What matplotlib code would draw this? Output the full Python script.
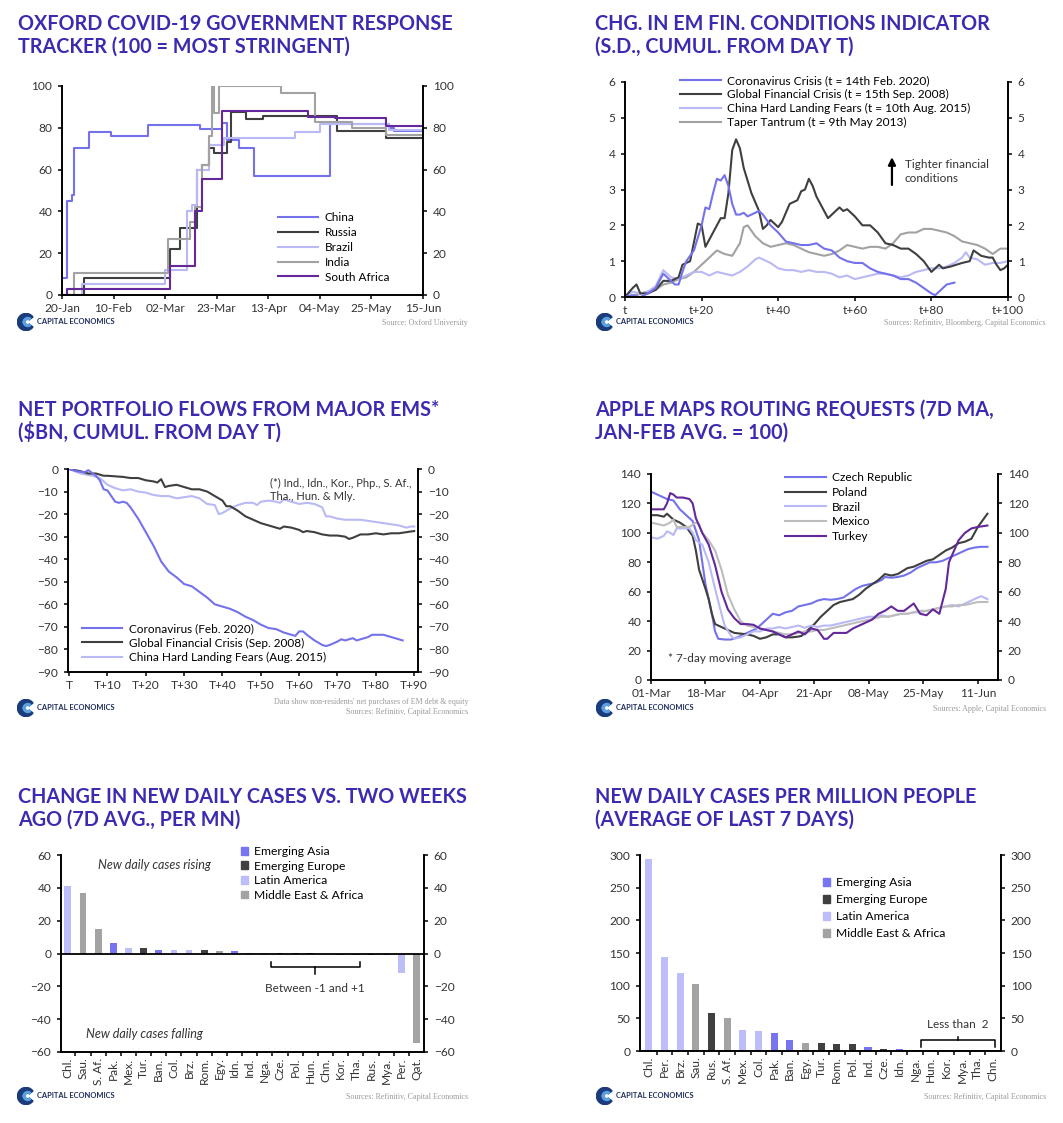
import matplotlib
matplotlib.use("Agg")
import matplotlib.pyplot as plt
import matplotlib.dates as mdates
from matplotlib.patches import Wedge, Patch
import pandas as pd

plt.rcParams['font.family'] = ['Lato', 'DejaVu Sans']

# ---------------- data ----------------
# panel 1: Oxford stringency index (step changes)
china_d = ["2020-01-20", "2020-01-22", "2020-01-24", "2020-01-25", "2020-01-31", "2020-02-09", "2020-02-24",
           "2020-03-16", "2020-03-25", "2020-03-27", "2020-04-01", "2020-04-07", "2020-05-08", "2020-06-01", "2020-06-03"]
china_v = [8, 45, 48, 70.5, 78, 76, 81.5, 79.5, 82.5, 74, 70.5, 57, 82, 80, 78.5]
russia_d = ["2020-01-20", "2020-01-29", "2020-03-04", "2020-03-08", "2020-03-15", "2020-03-17", "2020-03-20",
            "2020-03-22", "2020-03-27", "2020-03-29", "2020-04-04", "2020-04-11", "2020-05-11", "2020-05-31"]
russia_v = [0, 8, 22, 32, 60, 62, 70.5, 68, 73, 87.5, 84, 85.5, 78.5, 75]
brazil_d = ["2020-01-20", "2020-01-28", "2020-03-02", "2020-03-11", "2020-03-13", "2020-03-15", "2020-03-20",
            "2020-03-26", "2020-04-24", "2020-05-04", "2020-06-01"]
brazil_v = [0, 5.5, 12, 40, 43, 60, 72, 75, 78, 82, 79]
india_d = ["2020-01-20", "2020-01-25", "2020-03-03", "2020-03-12", "2020-03-14", "2020-03-17", "2020-03-20",
           "2020-03-21", "2020-03-22", "2020-03-24", "2020-04-18", "2020-05-02", "2020-05-17", "2020-05-31"]
india_v = [0, 10.5, 27, 35, 42, 62, 76, 100, 87, 100, 96.5, 83, 80, 76.5]
safrica_d = ["2020-01-20", "2020-01-22", "2020-03-04", "2020-03-14", "2020-03-17", "2020-03-25", "2020-04-29",
             "2020-05-10", "2020-05-31"]
safrica_v = [0, 3, 14, 40, 55.5, 88, 85, 84.5, 81]

# panel 2: EM financial conditions (days from t)
cv_x = [0, 2, 4, 6, 8, 10, 11, 13, 14, 15, 16, 18, 20, 21, 22, 23, 24, 25, 26, 27, 28, 29, 30, 31, 32, 34, 35, 36,
        38, 40, 42, 44, 46, 48, 50, 52, 54, 56, 58, 60, 62, 64, 66, 68, 70, 72, 74, 76, 78, 80, 81, 82, 84, 86]
cv_y = [0, 0.05, 0, 0.1, 0.25, 0.65, 0.55, 0.35, 0.35, 0.7, 1.0, 1.3, 2.0, 2.5, 2.45, 2.9, 3.3, 3.25, 3.4, 3.1,
        2.6, 2.3, 2.3, 2.35, 2.25, 2.35, 2.4, 2.3, 2.0, 1.8, 1.55, 1.5, 1.45, 1.45, 1.5, 1.35, 1.3, 1.1, 1.0, 0.95,
        0.95, 0.8, 0.7, 0.65, 0.6, 0.5, 0.5, 0.4, 0.25, 0.1, 0.05, 0.15, 0.35, 0.4]
gfc_x = [0, 2, 3, 4, 6, 8, 10, 12, 14, 15, 17, 19, 20, 21, 23, 25, 26, 27, 28, 29, 30, 31, 33, 35, 36, 37, 38, 40,
         41, 43, 45, 46, 47, 48, 49, 50, 52, 53, 55, 56, 57, 58, 60, 62, 64, 66, 68, 70, 72, 74, 76, 78, 80, 82,
         83, 85, 88, 90, 91, 93, 95, 96, 97, 98, 99, 100]
gfc_y = [0, 0.25, 0.35, 0.1, 0.1, 0.2, 0.45, 0.45, 0.55, 0.9, 1.0, 2.05, 2.0, 1.4, 1.8, 2.2, 2.2, 2.9, 4.1, 4.4,
         4.15, 3.6, 2.9, 2.4, 1.9, 2.0, 2.15, 1.95, 2.1, 2.6, 2.7, 2.95, 3.0, 3.3, 3.1, 2.8, 2.4, 2.2, 2.4, 2.5,
         2.4, 2.45, 2.25, 2.0, 2.0, 1.8, 1.5, 1.45, 1.35, 1.35, 1.2, 1.0, 0.7, 0.9, 0.8, 0.85, 0.95, 1.0, 1.3,
         1.15, 1.1, 1.1, 0.9, 0.75, 0.8, 0.9]
chl_x = [0, 2, 4, 6, 8, 10, 12, 14, 16, 18, 20, 22, 24, 26, 28, 30, 32, 34, 35, 36, 38, 40, 42, 44, 46, 48, 50,
         52, 54, 56, 58, 60, 62, 64, 66, 68, 70, 72, 74, 76, 78, 80, 82, 84, 86, 88, 89, 90, 92, 94, 96, 98, 100]
chl_y = [0, 0.15, 0.1, 0.15, 0.3, 0.75, 0.55, 0.5, 0.6, 0.7, 0.7, 0.6, 0.7, 0.65, 0.6, 0.7, 0.85, 1.05, 1.1,
         1.05, 0.95, 0.8, 0.75, 0.75, 0.7, 0.75, 0.7, 0.7, 0.65, 0.55, 0.6, 0.5, 0.55, 0.6, 0.65, 0.65, 0.6, 0.55,
         0.6, 0.7, 0.75, 0.8, 0.8, 0.85, 0.95, 1.1, 1.25, 1.1, 1.05, 0.9, 0.95, 0.95, 1.0]
tt_x = [0, 4, 8, 10, 12, 14, 16, 18, 20, 22, 24, 26, 28, 30, 31, 32, 34, 36, 38, 40, 42, 44, 46, 48, 50, 52, 54,
        56, 58, 60, 62, 64, 66, 68, 70, 72, 74, 76, 78, 80, 82, 84, 86, 88, 90, 92, 94, 96, 98, 100]
tt_y = [0, 0.1, 0.2, 0.35, 0.4, 0.5, 0.55, 0.7, 0.9, 1.1, 1.3, 1.2, 1.15, 1.5, 1.95, 2.0, 1.7, 1.5, 1.4, 1.45,
        1.5, 1.45, 1.35, 1.25, 1.2, 1.15, 1.2, 1.3, 1.45, 1.4, 1.35, 1.4, 1.4, 1.35, 1.5, 1.75, 1.8, 1.8, 1.9,
        1.9, 1.85, 1.8, 1.7, 1.55, 1.5, 1.45, 1.35, 1.2, 1.35, 1.35]

# panel 3: net portfolio flows ($bn, days from T)
p3_cv_x = [0, 2, 4, 5, 7, 8, 9, 10, 11, 12, 13, 14, 15, 16, 18, 20, 22, 24, 26, 28, 30, 32, 34, 36, 38, 40, 42,
           44, 46, 48, 50, 52, 54, 56, 58, 59, 60, 61, 62, 64, 66, 67, 68, 70, 71, 72, 74, 75, 76, 78, 79, 80, 82,
           84, 86, 87]
p3_cv_y = [0, -1, -1.5, -0.5, -3, -5, -9, -9.5, -12, -14.5, -15, -14.5, -15, -17, -22, -28, -34, -41, -45.5, -48,
           -51, -52, -54.5, -57, -60, -61, -62, -63.5, -65.5, -67, -69, -70.5, -71, -72.5, -73.5, -74, -72, -72,
           -73.5, -76, -78, -78.5, -78, -76.5, -75.5, -76, -75, -76, -75.5, -74.5, -73.5, -73.5, -73.5, -74.5,
           -75.5, -76]
p3_gfc_x = [0, 3, 5, 7, 9, 10, 14, 16, 18, 20, 22, 23, 24, 25, 26, 28, 30, 32, 34, 36, 38, 40, 41, 42, 44, 46,
            48, 50, 52, 54, 55, 56, 58, 60, 61, 62, 64, 66, 68, 70, 72, 73, 74, 76, 78, 80, 82, 84, 86, 88, 90]
p3_gfc_y = [0, -1, -2, -2, -3, -3, -3.5, -4, -4, -5, -5.5, -6, -4.5, -8, -7.5, -7, -8, -9, -9, -10, -12, -14,
            -16.5, -16.5, -18.5, -21, -22.5, -24, -25, -26, -26.5, -25.5, -26, -27, -28, -27.5, -28, -29, -29.5,
            -29.5, -30, -31, -30.5, -29, -29, -28.5, -29, -28.5, -28.5, -28, -27.5]
p3_chl_x = [0, 3, 6, 8, 10, 12, 14, 16, 18, 20, 22, 24, 26, 28, 30, 32, 34, 36, 38, 39, 40, 42, 44, 46, 48, 49,
            50, 52, 54, 55, 56, 58, 60, 62, 64, 66, 67, 68, 70, 72, 74, 76, 78, 80, 82, 84, 86, 88, 89, 90]
p3_chl_y = [0, -2, -3, -4, -7, -8.5, -9.5, -9, -10, -10.5, -11.5, -12, -12, -13, -12.5, -12, -13, -15.5, -16, -20,
            -19.5, -17.5, -16, -15, -15, -16, -14.5, -14, -14.5, -15, -13.5, -14.5, -15.5, -15, -15.5, -17, -21,
            -21, -22, -22.5, -22.5, -22.5, -23, -23.5, -24, -24.5, -25, -26, -25.5, -25.5]

# panel 4: Apple maps routing requests (days from 01-Mar)
cz_x = [0, 2, 5, 7, 9, 11, 13, 15, 16, 17, 18, 19, 20, 21, 23, 25, 27, 29, 31, 33, 35, 37, 38, 40, 42, 44, 46, 48,
        50, 52, 54, 56, 58, 60, 62, 64, 66, 68, 70, 72, 73, 75, 77, 79, 81, 83, 85, 87, 89, 91, 93, 95, 97, 99,
        101, 103, 105]
cz_y = [128, 126, 123, 122, 116, 112, 108, 95, 80, 65, 55, 45, 33, 28, 27.5, 27.5, 29, 31, 33, 35, 39, 43, 45, 44,
        46, 47, 50, 51, 52, 54, 55, 54.5, 55, 56, 59, 62, 64, 65, 66, 68, 70, 69.5, 70, 71, 73, 76, 78, 80, 80, 81,
        83, 85, 87, 89, 90, 90.5, 90.5]
pl_x = [0, 2, 4, 5, 7, 9, 11, 13, 14, 15, 17, 18, 19, 20, 22, 24, 26, 28, 30, 32, 34, 36, 38, 40, 42, 44, 46, 47,
        49, 51, 53, 55, 57, 59, 61, 63, 65, 67, 69, 71, 72, 73, 75, 77, 80, 82, 84, 86, 88, 90, 92, 94, 96, 98,
        100, 102, 104, 105]
pl_y = [112, 112, 111, 113, 109, 107, 104, 98, 88, 75, 62, 55, 45, 38, 36, 34, 32, 31.5, 31, 30, 28, 29, 31, 31,
        29, 29, 29.5, 30, 34, 38, 43, 47, 51, 53, 54, 55, 58, 62, 65, 68, 70, 72, 71, 72, 76, 77, 79, 81, 82, 85,
        88, 90, 93, 94, 96, 104, 110, 113]
br_x = [0, 2, 4, 5, 6, 7, 8, 10, 12, 13, 14, 16, 18, 20, 22, 23, 25, 26, 28, 30, 32, 34, 36, 38, 40, 42, 44, 46,
        48, 50, 52, 54, 56, 58, 60, 62, 64, 66, 68, 70, 72, 74, 76, 78, 80, 82, 84, 86, 88, 90, 92, 94, 96, 98,
        100, 102, 103, 105]
br_y = [97, 96, 98, 101, 100, 98.5, 103, 103, 103, 100, 95, 92, 80, 62, 45, 37, 30, 28, 29, 31, 33, 33, 35, 35,
        36, 35, 36, 37, 35.5, 37, 36, 37, 37, 38, 39, 40, 41, 42, 43, 43, 44, 43, 44, 45, 45, 46, 46, 47, 48, 49,
        50, 51, 50, 52, 54, 56, 57, 55]
mx_x = [0, 2, 4, 6, 7, 8, 10, 12, 14, 15, 16, 18, 20, 22, 24, 26, 28, 30, 32, 34, 36, 38, 40, 42, 44, 46, 48, 50,
        52, 54, 56, 58, 60, 62, 64, 66, 68, 70, 72, 74, 76, 78, 80, 82, 84, 86, 88, 90, 92, 94, 96, 98, 100, 102,
        105]
mx_y = [107, 106, 105, 107, 109, 104, 104, 104, 107, 106, 100, 95, 88, 75, 58, 48, 40, 37, 36, 35, 34, 33, 32,
        31, 31, 32, 33, 33, 34, 34, 35, 36, 37, 38, 39, 40, 41, 42, 43, 43, 44, 45, 45, 46, 47, 47, 48, 49, 50,
        50, 51, 51, 52, 53, 53]
tr_x = [0, 2, 4, 5, 6, 7, 8, 10, 12, 13, 14, 16, 18, 20, 22, 24, 26, 28, 30, 32, 34, 36, 38, 40, 42, 44, 46, 48,
        50, 52, 54, 55, 57, 59, 61, 63, 66, 69, 71, 73, 75, 77, 79, 82, 84, 86, 88, 90, 92, 93, 94, 96, 98, 100,
        102, 105]
tr_y = [116, 116, 116, 120, 127, 126, 124, 124, 123, 120, 110, 100, 92, 78, 60, 48, 42, 38, 38, 37.5, 35, 34, 33,
        31, 29, 31, 33, 31, 35, 34, 28, 28, 32, 32, 32, 35, 38, 41, 45, 47, 50, 47, 47, 52, 45, 44, 48, 45, 62,
        80, 85, 95, 100, 103, 104, 105]
p4_ticks = ["01-Mar", "18-Mar", "04-Apr", "21-Apr", "08-May", "25-May", "11-Jun"]

# panel 5: change in new daily cases vs two weeks ago
cats5 = ["Chl.", "Sau.", "S. Af.", "Pak.", "Mex.", "Tur.", "Ban.", "Col.", "Brz.", "Rom.", "Egy.", "Idn.",
         "Ind.", "Nga.", "Cze.", "Pol.", "Hun.", "Chn.", "Kor.", "Tha.", "Rus.", "Mya.", "Per.", "Qat."]
vals5 = [41.4, 36.7, 14.7, 6.1, 3.3, 3.3, 2.3, 2.3, 2.3, 2.3, 1.4, 1.4, 0.3, 0.2, 0.1, 0.1, 0.05, 0.0,
         -0.9, -0.9, -1.2, -0.9, -11.8, -54.5]
reg5 = ["LA", "ME", "ME", "AS", "LA", "EU", "AS", "LA", "LA", "EU", "ME", "AS",
        "AS", "ME", "EU", "EU", "EU", "AS", "AS", "AS", "EU", "AS", "LA", "ME"]

# panel 6: new daily cases per million
cats6 = ["Chl.", "Per.", "Brz.", "Sau.", "Rus.", "S. Af.", "Mex.", "Col.", "Pak.", "Ban.", "Egy.", "Tur.",
         "Rom.", "Pol.", "Ind.", "Cze.", "Idn.", "Nga.", "Hun.", "Kor.", "Mya.", "Tha.", "Chn."]
vals6 = [294, 144, 120, 103, 58, 51, 32, 30, 28, 17, 13, 13, 11, 11, 6, 3, 3, 1, 1, 0.5, 0.3, 0.1, 0.05]
reg6 = ["LA", "LA", "LA", "ME", "EU", "ME", "LA", "LA", "AS", "AS", "ME", "EU",
        "EU", "EU", "AS", "EU", "AS", "ME", "EU", "AS", "AS", "AS", "AS"]

# ---------------- style ----------------
TITLE = "#3a2bb0"
BLUE = "#7472ea"
DARK = "#3f3f3f"
LAV = "#b9b9f6"
GREY = "#a2a2a2"
LGREY = "#bdbdbd"
PURPLE = "#64289a"
REGION = {"AS": ("Emerging Asia", "#7674f0"), "EU": ("Emerging Europe", "#404040"),
          "LA": ("Latin America", "#bdbdfa"), "ME": ("Middle East & Africa", "#a3a3a3")}
TXT = "#333333"
TICK_FS = 8.6
NOTE_FS = 8.5

W, H = 1063, 1123
fig = plt.figure(figsize=(W / 100, H / 100), dpi=100)


def px_axes(l, t, r, b):
    return fig.add_axes([l / W, 1 - b / H, (r - l) / W, (b - t) / H])


def style(ax):
    ax.spines['top'].set_visible(False)
    for s in ['left', 'right', 'bottom']:
        ax.spines[s].set_linewidth(1.4)
        ax.spines[s].set_color('black')
    ax.tick_params(axis='y', left=True, right=True, labelleft=True, labelright=True, direction='out',
                   length=3, width=1.1, labelsize=TICK_FS, labelcolor=TXT, pad=4)
    ax.tick_params(axis='x', direction='out', length=3, width=1.1, labelsize=TICK_FS, labelcolor=TXT, pad=3)
    ax.set_facecolor('none')


def title(x, y, l1, l2):
    fig.text(x / W, 1 - y / H, l1, fontsize=14.2, fontweight='bold', color=TITLE, va='baseline')
    fig.text(x / W, 1 - (y + 23) / H, l2, fontsize=14.2, fontweight='bold', color=TITLE, va='baseline')


def footer(x, y, right, src):
    lax = fig.add_axes([(x) / W, 1 - (y + 9) / H, 18 / W, 18 / H])
    lax.set_xlim(-1, 1)
    lax.set_ylim(-1, 1)
    lax.set_aspect('equal')
    lax.axis('off')
    lax.add_patch(Wedge((0, 0), 0.95, 35, 325, width=0.5, color='#1b3c7c'))
    lax.add_patch(Wedge((0.2, 0), 0.5, 50, 310, width=0.22, color='#5aa0e0'))
    fig.text((x + 20) / W, 1 - y / H, "CAPITAL ECONOMICS", fontsize=5.4, fontweight='bold',
             color='#1e2d5c', va='center')
    lines = src.split("\n")
    base = y + 1 if len(lines) == 1 else y + 4
    for i, s in enumerate(lines[::-1]):
        fig.text(right / W, 1 - (base - i * 10) / H, s, fontsize=5.8, color='#9a9a9a',
                 ha='right', va='center', family=['Liberation Serif'])


def line_legend(ax, handles, labels, x, y, fs=8.5, ls=0.3):
    ax.legend(handles, labels, loc='upper left', bbox_to_anchor=(x, y), frameon=False, fontsize=fs,
              handlelength=3.4, handletextpad=0.55, labelspacing=ls, borderaxespad=0, borderpad=0)


# ---------------- panel 1 ----------------
title(18, 30, "OXFORD COVID-19 GOVERNMENT RESPONSE", "TRACKER (100 = MOST STRINGENT)")
ax1 = px_axes(62, 86, 423, 295)
end1 = pd.Timestamp("2020-06-15")
p1 = [("China", china_d, china_v, BLUE), ("Russia", russia_d, russia_v, DARK),
      ("Brazil", brazil_d, brazil_v, LAV), ("India", india_d, india_v, GREY),
      ("South Africa", safrica_d, safrica_v, PURPLE)]
hs = []
for name, d, v, c in p1:
    dd = list(pd.to_datetime(d)) + [end1]
    vv = list(v) + [v[-1]]
    h, = ax1.step(dd, vv, where='post', color=c, lw=1.5)
    hs.append(h)
ax1.set_xlim(pd.Timestamp("2020-01-20"), end1)
ax1.set_ylim(0, 100)
ax1.set_xticks(pd.date_range("2020-01-20", "2020-06-15", freq="21D"))
ax1.xaxis.set_major_formatter(mdates.DateFormatter('%d-%b'))
ax1.set_yticks(range(0, 101, 20))
style(ax1)
line_legend(ax1, hs, [p[0] for p in p1], 0.598, 0.397, ls=0.33)
footer(17, 322, 468, "Source: Oxford University")

# ---------------- panel 2 ----------------
title(595, 30, "CHG. IN EM FIN. CONDITIONS INDICATOR", "(S.D., CUMUL. FROM DAY T)")
ax2 = px_axes(625, 82, 1008, 297)
p2 = [("Coronavirus Crisis (t = 14th Feb. 2020)", cv_x, cv_y, BLUE),
      ("Global Financial Crisis (t = 15th Sep. 2008)", gfc_x, gfc_y, DARK),
      ("China Hard Landing Fears (t = 10th Aug. 2015)", chl_x, chl_y, LAV),
      ("Taper Tantrum (t = 9th May 2013)", tt_x, tt_y, GREY)]
hs = []
for name, x, y, c in p2[::-1]:
    h, = ax2.plot(x, y, color=c, lw=1.5)
    hs.append(h)
hs = hs[::-1]
ax2.set_xlim(0, 100)
ax2.set_ylim(0, 6)
ax2.set_xticks(range(0, 101, 20))
ax2.set_xticklabels(["t", "t+20", "t+40", "t+60", "t+80", "t+100"])
ax2.set_yticks(range(0, 7))
style(ax2)
line_legend(ax2, hs, [p[0] for p in p2], 0.1436, 1.03, fs=8.6, ls=0.24)
ax2.annotate("", xy=(69.7, 3.98), xytext=(69.7, 3.05),
             arrowprops=dict(arrowstyle='-|>', color='black', lw=1.6, mutation_scale=11))
ax2.text(73, 3.5, "Tighter financial\nconditions", fontsize=NOTE_FS, color=TXT, va='center', linespacing=1.25)
footer(596, 322, 1046, "Sources: Refinitiv, Bloomberg, Capital Economics")

# ---------------- panel 3 ----------------
title(18, 416, "NET PORTFOLIO FLOWS FROM MAJOR EMS*", "($BN, CUMUL. FROM DAY T)")
ax3 = px_axes(68, 469, 418, 672)
p3 = [("Coronavirus (Feb. 2020)", p3_cv_x, p3_cv_y, BLUE),
      ("Global Financial Crisis (Sep. 2008)", p3_gfc_x, p3_gfc_y, DARK),
      ("China Hard Landing Fears (Aug. 2015)", p3_chl_x, p3_chl_y, LAV)]
hs = []
for name, x, y, c in p3[::-1]:
    h, = ax3.plot(x, y, color=c, lw=1.5)
    hs.append(h)
hs = hs[::-1]
ax3.set_xlim(-0.3, 91)
ax3.set_ylim(-90, 0)
ax3.set_xticks(range(0, 91, 10))
ax3.set_xticklabels(["T"] + ["T+%d" % i for i in range(10, 91, 10)])
ax3.set_yticks(range(-90, 1, 10))
style(ax3)
line_legend(ax3, hs, [p[0] for p in p3], 0.04, 0.24, fs=8.5, ls=0.27)
ax3.text(0.577, 0.955, "(*) Ind., Idn., Kor., Php., S. Af.,\nTha., Hun. & Mly.", transform=ax3.transAxes,
         fontsize=8, color=TXT, va='top', linespacing=1.15)
footer(17, 708, 468, "Data show non-residents' net purchases of EM debt & equity\nSources: Refinitiv, Capital Economics")

# ---------------- panel 4 ----------------
title(595, 416, "APPLE MAPS ROUTING REQUESTS (7D MA,", "JAN-FEB AVG. = 100)")
ax4 = px_axes(651, 474, 998, 680)
p4 = [("Czech Republic", cz_x, cz_y, BLUE), ("Poland", pl_x, pl_y, DARK), ("Brazil", br_x, br_y, LAV),
      ("Mexico", mx_x, mx_y, LGREY), ("Turkey", tr_x, tr_y, PURPLE)]
hs = []
for name, x, y, c in p4:
    h, = ax4.plot(x, y, color=c, lw=1.5)
    hs.append(h)
ax4.set_xlim(0, 108.3)
ax4.set_ylim(0, 140)
ax4.set_xticks(range(0, 103, 17))
ax4.set_xticklabels(p4_ticks)
ax4.set_yticks(range(0, 141, 20))
style(ax4)
line_legend(ax4, hs, [p[0] for p in p4], 0.386, 1.008, fs=8.6, ls=0.3)
ax4.text(0.05, 0.085, "* 7-day moving average", transform=ax4.transAxes, fontsize=NOTE_FS, color=TXT)
footer(596, 708, 1046, "Sources: Apple, Capital Economics")


# ---------------- bar panels ----------------
def bars(ax, cats, vals, regs):
    x = range(len(cats))
    ax.bar(x, vals, width=0.45, color=[REGION[r][1] for r in regs], zorder=2)
    ax.set_xticks(list(x))
    ax.set_xticklabels(cats, rotation=90, fontsize=TICK_FS, color=TXT)
    ax.set_xticks([i + 0.5 for i in range(len(cats) - 1)], minor=True)
    handles = [Patch(color=REGION[k][1]) for k in ["AS", "EU", "LA", "ME"]]
    labels = [REGION[k][0] for k in ["AS", "EU", "LA", "ME"]]
    return handles, labels


def bar_ticks(ax):
    ax.tick_params(axis='x', which='major', length=0, pad=4)
    ax.tick_params(axis='x', which='minor', direction='out', length=3, width=1.1)


title(18, 803, "CHANGE IN NEW DAILY CASES VS. TWO WEEKS", "AGO (7D AVG., PER MN)")
ax5 = px_axes(61, 855, 424, 1052)
h5, l5 = bars(ax5, cats5, vals5, reg5)
ax5.axhline(0, color='black', lw=1.3, zorder=3)
ax5.set_xlim(-0.45, 23.5)
ax5.set_ylim(-60, 60)
ax5.set_yticks(range(-60, 61, 20))
style(ax5)
bar_ticks(ax5)
ax5.legend(h5, l5, loc='upper left', bbox_to_anchor=(0.496, 1.046), frameon=False, fontsize=8.7,
           handlelength=0.6, handleheight=0.6, handletextpad=0.45, labelspacing=0.3, borderaxespad=0,
           borderpad=0)
ax5.text(2.0, 51.5, "New daily cases rising", fontsize=9, style='italic', color=TXT)
ax5.text(1.2, -51.5, "New daily cases falling", fontsize=9, style='italic', color=TXT)
ax5.plot([13.4, 13.4, 19.25, 19.25], [-5.3, -8.4, -8.4, -5.3], color='black', lw=1.1)
ax5.plot([16.3, 16.3], [-8.4, -12.5], color='black', lw=1.1)
ax5.text(16.3, -21.5, "Between -1 and +1", fontsize=NOTE_FS, color=TXT, ha='center', va='center')
footer(17, 1096, 468, "Sources: Refinitiv, Capital Economics")

title(595, 803, "NEW DAILY CASES PER MILLION PEOPLE", "(AVERAGE OF LAST 7 DAYS)")
ax6 = px_axes(640, 855, 1001, 1051)
h6, l6 = bars(ax6, cats6, vals6, reg6)
ax6.set_xlim(-0.57, 22.5)
ax6.set_ylim(0, 300)
ax6.set_yticks(range(0, 301, 50))
style(ax6)
bar_ticks(ax6)
ax6.legend(h6, l6, loc='upper left', bbox_to_anchor=(0.507, 0.888), frameon=False, fontsize=8.7,
           handlelength=0.6, handleheight=0.6, handletextpad=0.45, labelspacing=0.5, borderaxespad=0,
           borderpad=0)
ax6.plot([17.4, 17.4, 22.1, 22.1], [5.6, 16.8, 16.8, 5.6], color='black', lw=1.1)
ax6.plot([19.75, 19.75], [16.8, 22], color='black', lw=1.1)
ax6.text(19.75, 41, "Less than  2", fontsize=NOTE_FS, color=TXT, ha='center', va='center')
footer(596, 1096, 1046, "Sources: Refinitiv, Capital Economics")

fig.savefig("out.png", dpi=100, facecolor='white')
